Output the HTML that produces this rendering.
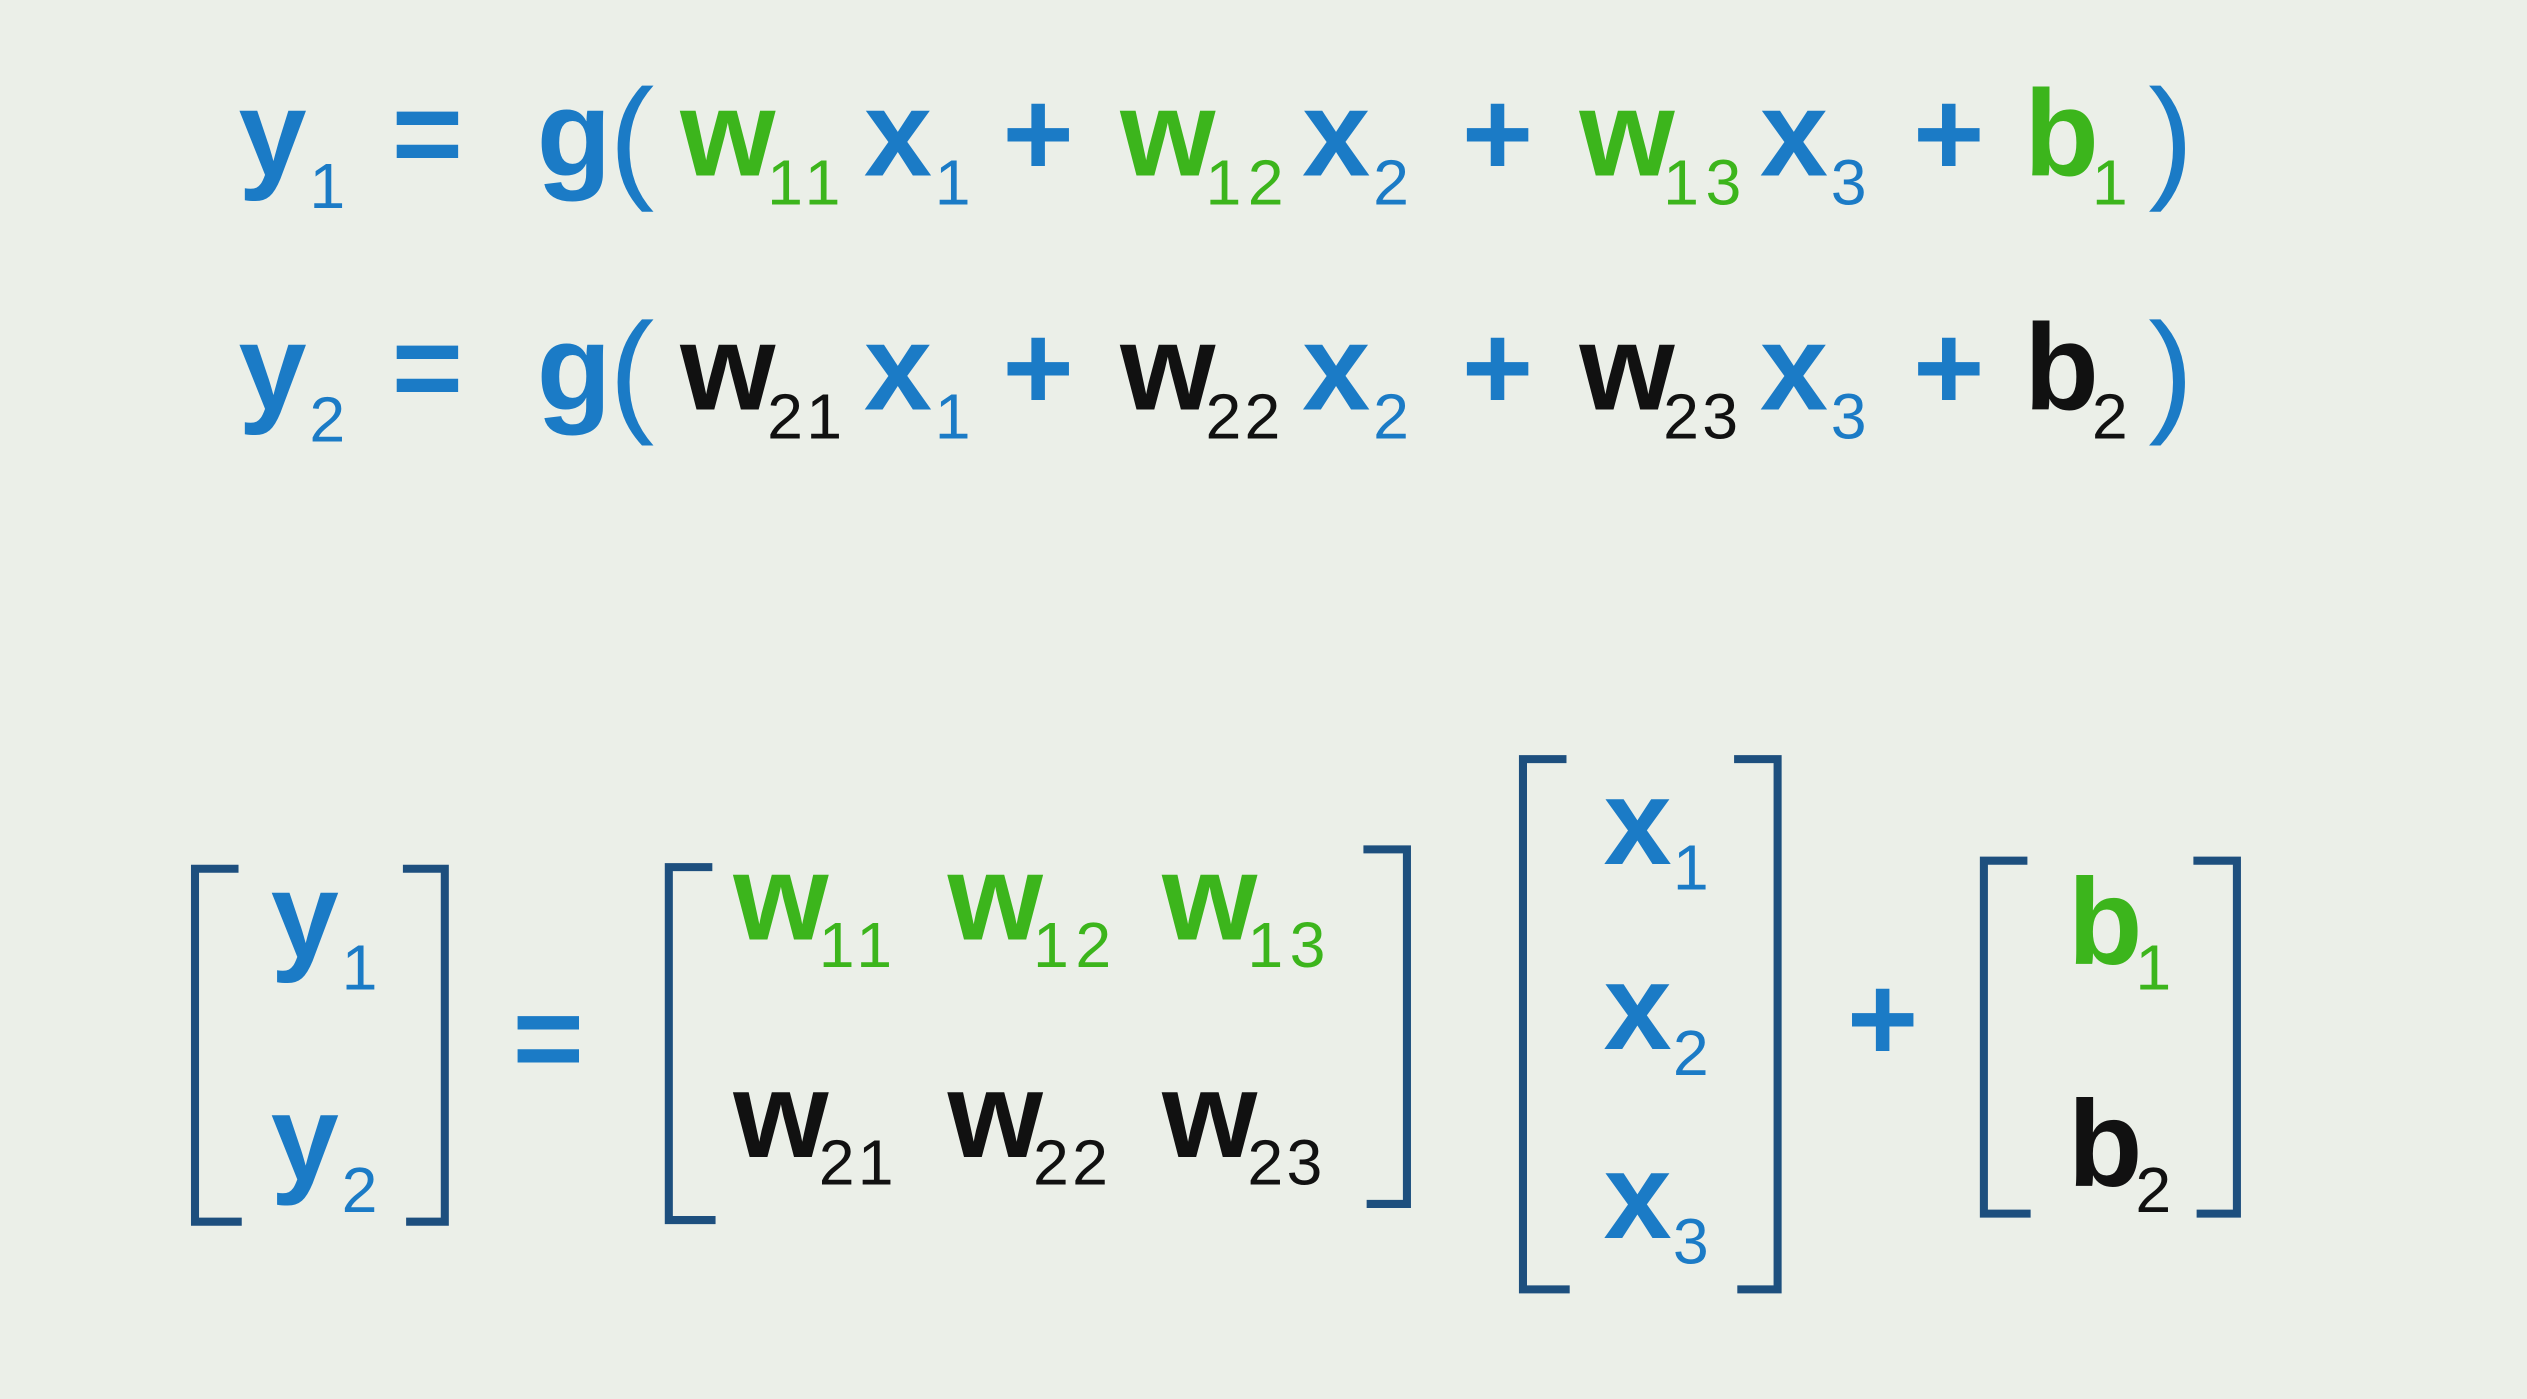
<!DOCTYPE html>
<html><head><meta charset="utf-8"><style>
html,body{margin:0;padding:0;background:#ebefe8;}
svg{display:block}
text{font-family:"Liberation Sans","DejaVu Sans",sans-serif;}
.b{fill:#1b7bc6;font-weight:bold;font-size:76px}
.g{fill:#3cb51c;font-weight:bold;font-size:76px}
.k{fill:#111;font-weight:bold;font-size:76px}
.bs{fill:#1b7bc6;font-size:40px}
.gs{fill:#3cb51c;font-size:40px;letter-spacing:4px}
.ks{fill:#111;font-size:40px;letter-spacing:2px}
.br{fill:none;stroke:#1d4f7e;stroke-width:5}
.p{fill:#1b7bc6;font-size:84px}
</style></head><body>
<svg width="2527" height="1399" viewBox="0 0 1568 868" xmlns="http://www.w3.org/2000/svg">
<rect width="1568" height="868" fill="#ebefe8"/>
<g transform="translate(0,4)">
<text x="148" y="105" class="b">y</text><text x="192" y="125" class="bs">1</text>
<text x="243" y="105" class="b">=</text>
<text x="333" y="105" class="b">g</text><text x="378" y="110" class="p">(</text>
<text x="422" y="105" class="g">w</text><text x="476" y="123" class="gs">11</text>
<text x="536" y="105" class="b">x</text><text x="580" y="123" class="bs">1</text>
<text x="622" y="105" class="b">+</text>
<text x="695" y="105" class="g">w</text><text x="748" y="123" class="gs">12</text>
<text x="808" y="105" class="b">x</text><text x="852" y="123" class="bs">2</text>
<text x="907" y="105" class="b">+</text>
<text x="980" y="105" class="g">w</text><text x="1032" y="123" class="gs">13</text>
<text x="1092" y="105" class="b">x</text><text x="1136" y="123" class="bs">3</text>
<text x="1187" y="105" class="b">+</text>
<text x="1256" y="105" class="g">b</text><text x="1298" y="123" class="gs">1</text>
<text x="1333" y="110" class="p">)</text>
</g>
<g transform="translate(0,4)">
<text x="148" y="250" class="b">y</text><text x="192" y="270" class="bs">2</text>
<text x="243" y="250" class="b">=</text>
<text x="333" y="250" class="b">g</text><text x="378" y="255" class="p">(</text>
<text x="422" y="250" class="k">w</text><text x="476" y="268" class="ks">21</text>
<text x="536" y="250" class="b">x</text><text x="580" y="268" class="bs">1</text>
<text x="622" y="250" class="b">+</text>
<text x="695" y="250" class="k">w</text><text x="748" y="268" class="ks">22</text>
<text x="808" y="250" class="b">x</text><text x="852" y="268" class="bs">2</text>
<text x="907" y="250" class="b">+</text>
<text x="980" y="250" class="k">w</text><text x="1032" y="268" class="ks">23</text>
<text x="1092" y="250" class="b">x</text><text x="1136" y="268" class="bs">3</text>
<text x="1187" y="250" class="b">+</text>
<text x="1256" y="250" class="k">b</text><text x="1298" y="268" class="ks">2</text>
<text x="1333" y="255" class="p">)</text>
</g>
<path class="br" d="M148 539 H121 V758 H150"/>
<path class="br" d="M250 539 H276 V758 H252"/>
<text x="168" y="594" class="b">y</text><text x="212" y="614" class="bs">1</text>
<text x="168" y="732" class="b">y</text><text x="212" y="752" class="bs">2</text>
<text x="318" y="670" class="b">=</text>
<path class="br" d="M442 538 H415 V757 H444"/>
<path class="br" d="M846 527 H873 V747 H848"/>
<text x="455" y="583" class="g">w</text><text x="508" y="600" class="gs">11</text>
<text x="588" y="583" class="g">w</text><text x="641" y="600" class="gs">12</text>
<text x="721" y="583" class="g">w</text><text x="774" y="600" class="gs">13</text>
<text x="455" y="718" class="k">w</text><text x="508" y="735" class="ks">21</text>
<text x="588" y="718" class="k">w</text><text x="641" y="735" class="ks">22</text>
<text x="721" y="718" class="k">w</text><text x="774" y="735" class="ks">23</text>
<path class="br" d="M972 471 H945 V800 H974"/>
<path class="br" d="M1076 471 H1103 V800 H1078"/>
<text x="995" y="536" class="b">x</text><text x="1038" y="552" class="bs">1</text>
<text x="995" y="651" class="b">x</text><text x="1038" y="667" class="bs">2</text>
<text x="995" y="768" class="b">x</text><text x="1038" y="784" class="bs">3</text>
<text x="1146" y="658" class="b">+</text>
<path class="br" d="M1258 534 H1231 V753 H1260"/>
<path class="br" d="M1361 534 H1388 V753 H1363"/>
<text x="1283" y="598" class="g">b</text><text x="1325" y="614" class="gs">1</text>
<text x="1283" y="736" class="k">b</text><text x="1325" y="752" class="ks">2</text>
</svg>
</body></html>
